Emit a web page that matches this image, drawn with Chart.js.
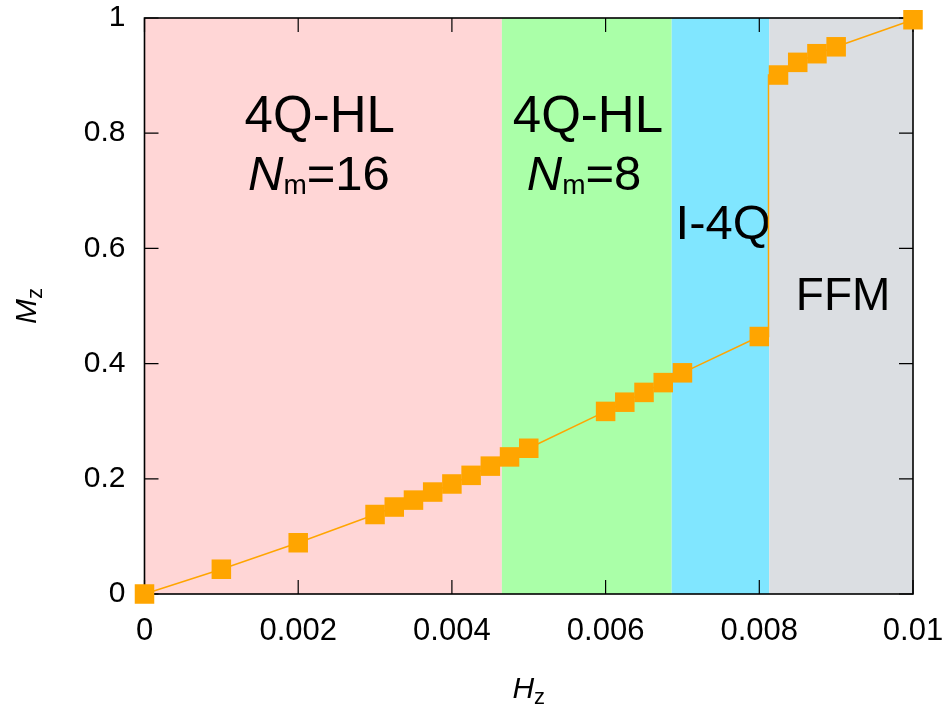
<!DOCTYPE html>
<html>
<head>
<meta charset="utf-8">
<script src="https://cdn.jsdelivr.net/npm/chart.js@4/dist/chart.umd.min.js"></script>
<style>
  html, body { margin: 0; padding: 0; background: #ffffff; }
  #wrap { width: 950px; height: 707px; }
</style>
</head>
<body>
<div id="wrap"><canvas id="c" width="950" height="707"></canvas></div>
<script>
// ---- data ----
const fieldH = [0, 0.001, 0.002, 0.003, 0.00325, 0.0035, 0.00375, 0.004, 0.00425, 0.0045,
                0.00475, 0.005, 0.006, 0.00625, 0.0065, 0.00675, 0.007, 0.008,
                0.00825, 0.0085, 0.00875, 0.009, 0.01];
const magM  = [0, 0.043, 0.089, 0.138, 0.151, 0.163, 0.177, 0.191, 0.206, 0.222,
               0.238, 0.253, 0.317, 0.333, 0.350, 0.367, 0.384, 0.447,
               0.901, 0.923, 0.938, 0.950, 0.997];
// jump at the transition (no markers)
const jumpH = [0.008, 0.00812, 0.00812, 0.00825];
const jumpM = [0.447, 0.447, 0.901, 0.901];
// phase boundaries along H
const phaseEdges = [0, 0.00465, 0.00686, 0.00813, 0.01];
const phaseColors = ['#ffd6d6', '#aaffa8', '#80e6ff', '#dbdee2'];
const xTickLabels = ['0', '0.002', '0.004', '0.006', '0.008', '0.01'];
const yTickLabels = ['0', '0.2', '0.4', '0.6', '0.8', '1'];

const ORANGE = '#ffa500';
const FONT = '"Liberation Sans", Arial, Helvetica, sans-serif';

function drawRich(ctx, runs, cx, baseY) {
  let total = 0;
  const widths = runs.map(r => {
    ctx.font = (r.italic ? 'italic ' : '') + r.size + 'px ' + FONT;
    const w = ctx.measureText(r.t).width;
    total += w;
    return w;
  });
  let x = cx - total / 2;
  ctx.textBaseline = 'alphabetic';
  ctx.textAlign = 'left';
  runs.forEach((r, i) => {
    ctx.font = (r.italic ? 'italic ' : '') + r.size + 'px ' + FONT;
    ctx.fillText(r.t, x, baseY + (r.dy || 0));
    x += widths[i];
  });
}

const regionPlugin = {
  id: 'regions',
  beforeDatasetsDraw(chart) {
    const { ctx, chartArea: a, scales: { x, y } } = chart;
    ctx.save();
    // phase backgrounds
    for (let i = 0; i < phaseColors.length; i++) {
      const x0 = x.getPixelForValue(phaseEdges[i]);
      const x1 = x.getPixelForValue(phaseEdges[i + 1]);
      ctx.fillStyle = phaseColors[i];
      ctx.fillRect(x0, a.top, x1 - x0, a.bottom - a.top);
    }
    // phase labels
    ctx.fillStyle = '#000';
    const P = (vx, vy) => [x.getPixelForValue(vx), y.getPixelForValue(vy)];
    let p;
    p = P(0.00228, 0.8026); drawRich(ctx, [{ t: '4Q-HL', size: 51 }], p[0], p[1]);
    p = P(0.00227, 0.7014); drawRich(ctx, [{ t: 'N', size: 49, italic: true }, { t: 'm', size: 28, dy: 4 }, { t: '=16', size: 49 }], p[0], p[1]);
    p = P(0.00577, 0.8026); drawRich(ctx, [{ t: '4Q-HL', size: 51 }], p[0], p[1]);
    p = P(0.00572, 0.7014); drawRich(ctx, [{ t: 'N', size: 49, italic: true }, { t: 'm', size: 28, dy: 4 }, { t: '=8', size: 49 }], p[0], p[1]);
    p = P(0.00753, 0.6158); drawRich(ctx, [{ t: 'I-4Q', size: 49 }], p[0], p[1]);
    p = P(0.00909, 0.4931); drawRich(ctx, [{ t: 'FFM', size: 46 }], p[0], p[1]);

    // frame
    ctx.strokeStyle = '#000';
    ctx.lineWidth = 1.6;
    ctx.strokeRect(a.left, a.top, a.right - a.left, a.bottom - a.top);
    // inward ticks, mirrored
    const TL = 14;
    ctx.lineWidth = 1.2;
    ctx.beginPath();
    x.ticks.forEach(t => {
      const px = x.getPixelForValue(t.value);
      ctx.moveTo(px, a.bottom); ctx.lineTo(px, a.bottom - TL);
      ctx.moveTo(px, a.top); ctx.lineTo(px, a.top + TL);
    });
    y.ticks.forEach(t => {
      const py = y.getPixelForValue(t.value);
      ctx.moveTo(a.left, py); ctx.lineTo(a.left + TL, py);
      ctx.moveTo(a.right, py); ctx.lineTo(a.right - TL, py);
    });
    ctx.stroke();
    ctx.restore();
  },
  afterDraw(chart) {
    const { ctx, chartArea: a } = chart;
    ctx.save();
    ctx.fillStyle = '#000';
    // x title: H_z
    drawRich(ctx, [{ t: 'H', size: 30, italic: true }, { t: 'z', size: 22, dy: 6 }], (a.left + a.right) / 2, 698);
    // y title: M_z rotated
    ctx.translate(36, (a.top + a.bottom) / 2);
    ctx.rotate(-Math.PI / 2);
    drawRich(ctx, [{ t: 'M', size: 30, italic: true }, { t: 'z', size: 22, dy: 6 }], 0, 0);
    ctx.restore();
  }
};

const mainPts = fieldH.map((h, i) => ({ x: h, y: magM[i] }));
const jumpPts = jumpH.map((h, i) => ({ x: h, y: jumpM[i] }));

function zeroPad(s) { s.paddingTop = 0; s.paddingBottom = 0; s.paddingLeft = 0; s.paddingRight = 0; }

new Chart(document.getElementById('c'), {
  type: 'line',
  data: {
    datasets: [
      {
        data: jumpPts,
        borderColor: ORANGE,
        borderWidth: 1.5,
        pointRadius: 0,
        fill: false,
        tension: 0,
        clip: false,
        order: 2
      },
      {
        data: mainPts,
        borderColor: ORANGE,
        backgroundColor: ORANGE,
        borderWidth: 1.5,
        pointStyle: 'rect',
        pointRadius: 13.8,
        pointHoverRadius: 13.8,
        pointBackgroundColor: ORANGE,
        pointBorderColor: ORANGE,
        pointBorderWidth: 0,
        fill: false,
        tension: 0,
        clip: false,
        order: 1,
        segment: {
          borderColor: c => (c.p0.parsed.x === 0.008 ? 'rgba(0,0,0,0)' : undefined)
        }
      }
    ]
  },
  options: {
    responsive: false,
    animation: false,
    events: [],
    layout: { padding: { top: 18, right: 37, left: 0, bottom: 0 } },
    plugins: { legend: { display: false }, tooltip: { enabled: false } },
    scales: {
      x: {
        type: 'linear',
        min: 0, max: 0.01,
        grid: { display: false, drawTicks: false },
        border: { display: false },
        ticks: {
          stepSize: 0.002,
          padding: 19,
          maxRotation: 0,
          autoSkip: false,
          color: '#000',
          font: { family: FONT, size: 31 },
          callback: (v, i) => xTickLabels[i]
        },
        afterFit: s => { s.height = 113; zeroPad(s); }
      },
      y: {
        type: 'linear',
        min: 0, max: 1,
        grid: { display: false, drawTicks: false },
        border: { display: false },
        ticks: {
          stepSize: 0.2,
          padding: 19,
          color: '#000',
          font: { family: FONT, size: 30 },
          callback: (v, i) => yTickLabels[i]
        },
        afterFit: s => { s.width = 144.5; zeroPad(s); }
      }
    }
  },
  plugins: [regionPlugin]
});
</script>
</body>
</html>
